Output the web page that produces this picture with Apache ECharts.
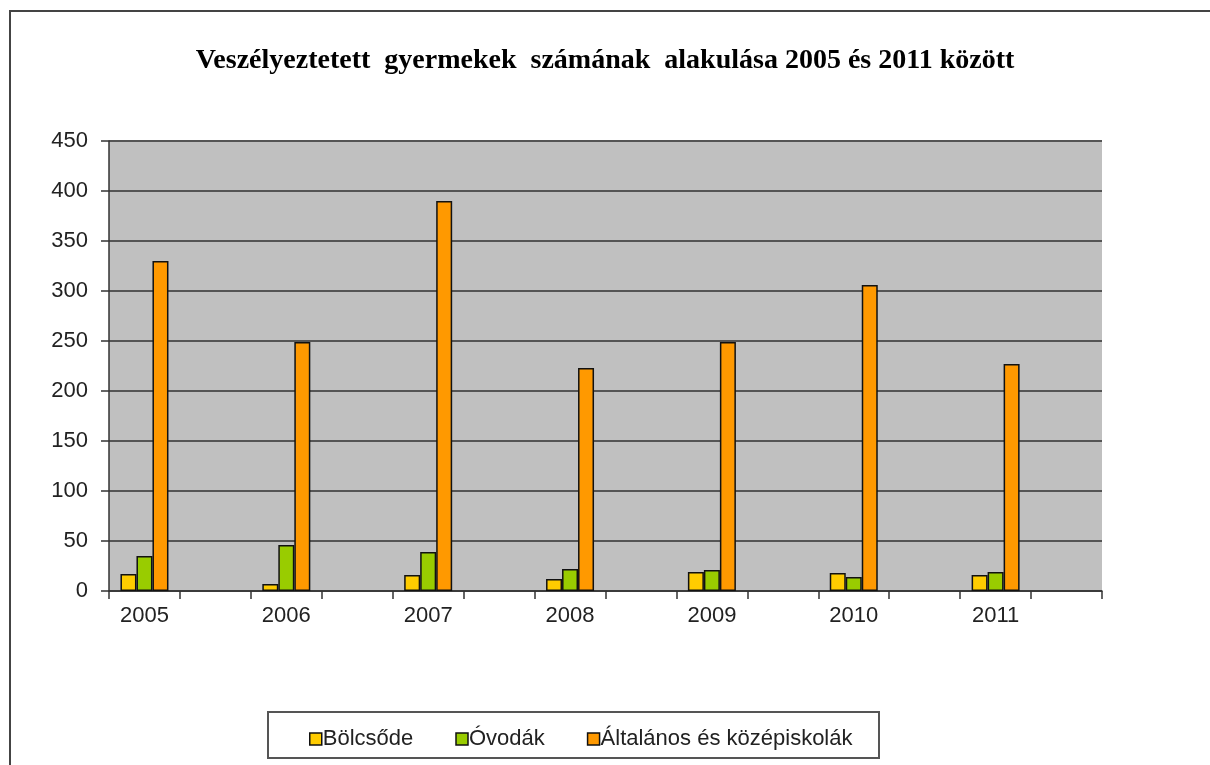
<!DOCTYPE html>
<html>
<head>
<meta charset="utf-8">
<script src="https://cdn.jsdelivr.net/npm/echarts@6/dist/echarts.min.js"></script>
<style>
  html, body { margin: 0; padding: 0; background: #fff; }
  #chart { width: 1210px; height: 765px; }
</style>
</head>
<body>
<div id="chart"></div>
<script>
// adatok
var years = ['2005', '2006', '2007', '2008', '2009', '2010', '2011'];
var bolcsode = [17, 7, 16, 12, 19, 18, 16];
var ovodak = [35, 46, 39, 22, 21, 14, 19];
var altalanos = [330, 249, 390, 223, 249, 306, 227];
var yTicks = [0, 50, 100, 150, 200, 250, 300, 350, 400, 450];

// every year is followed by an empty slot, like in the original sheet
function spread(arr) {
	var out = [];
	for (var i = 0; i < arr.length; i++) {
		out.push(arr[i]);
		out.push(null);
	}
	return out;
}
var cats = spread(years).map(function(v) { return v === null ? '' : v; });

var myChart = echarts.init(document.getElementById('chart'));

var barBase = {
	type: 'bar',
	barWidth: 16,
	barGap: '0%'
};

var option = {
	animation: false,
	backgroundColor: '#fff',
	title: {
		text: 'Veszélyeztetett  gyermekek  számának  alakulása 2005 és 2011 között',
		left: 'center',
		top: 42,
		textStyle: {
			fontFamily: 'Liberation Serif',
			fontWeight: 'bold',
			fontSize: 28,
			color: '#000'
		}
	},
	legend: {
		left: 304,
		top: 723,
		itemWidth: 12,
		itemHeight: 12,
		itemGap: 42,
		icon: 'rect',
		textStyle: { fontFamily: 'Liberation Sans', fontSize: 22, color: '#222', padding: [0, 0, 0, -4] },
		itemStyle: { borderColor: '#111', borderWidth: 1.5 },
		data: ['Bölcsőde', 'Óvodák', 'Általános és középiskolák']
	},
	grid: {
		left: 109,
		right: 108,
		top: 141,
		bottom: 174,
		show: true,
		backgroundColor: '#c0c0c0',
		borderWidth: 0
	},
	xAxis: {
		type: 'category',
		data: cats,
		axisLine: { lineStyle: { color: '#333', width: 1.5 } },
		axisTick: { show: true, interval: 0, length: 8, lineStyle: { color: '#333', width: 1.5 } },
		axisLabel: { interval: 0, margin: 14, fontFamily: 'Liberation Sans', fontSize: 22, color: '#222' },
		splitLine: { show: false }
	},
	yAxis: {
		type: 'value',
		min: yTicks[0],
		max: yTicks[yTicks.length - 1],
		interval: 50,
		axisLine: { show: true, lineStyle: { color: '#333', width: 1.5 } },
		axisTick: { show: true, length: 8, inside: false, lineStyle: { color: '#333', width: 1.5 } },
		axisLabel: { margin: 21, fontFamily: 'Liberation Sans', fontSize: 22, color: '#222' },
		splitLine: { lineStyle: { color: '#555', width: 2 } }
	},
	graphic: [
		{
			type: 'polyline',
			shape: { points: [[10, 765], [10, 11], [1210, 11]] },
			style: { stroke: '#444', lineWidth: 2, fill: null }
		},
		{
			type: 'rect',
			shape: { x: 268, y: 712, width: 611, height: 46 },
			style: { stroke: '#555', lineWidth: 2, fill: null },
			z: 0
		}
	],
	series: [
		Object.assign({}, barBase, {
			name: 'Bölcsőde',
			data: spread(bolcsode),
			itemStyle: { color: '#ffcc00', borderColor: '#111', borderWidth: 1.5 }
		}),
		Object.assign({}, barBase, {
			name: 'Óvodák',
			data: spread(ovodak),
			itemStyle: { color: '#99cc00', borderColor: '#111', borderWidth: 1.5 }
		}),
		Object.assign({}, barBase, {
			name: 'Általános és középiskolák',
			data: spread(altalanos),
			itemStyle: { color: '#ff9900', borderColor: '#111', borderWidth: 1.5 }
		})
	]
};

myChart.setOption(option);
</script>
</body>
</html>
